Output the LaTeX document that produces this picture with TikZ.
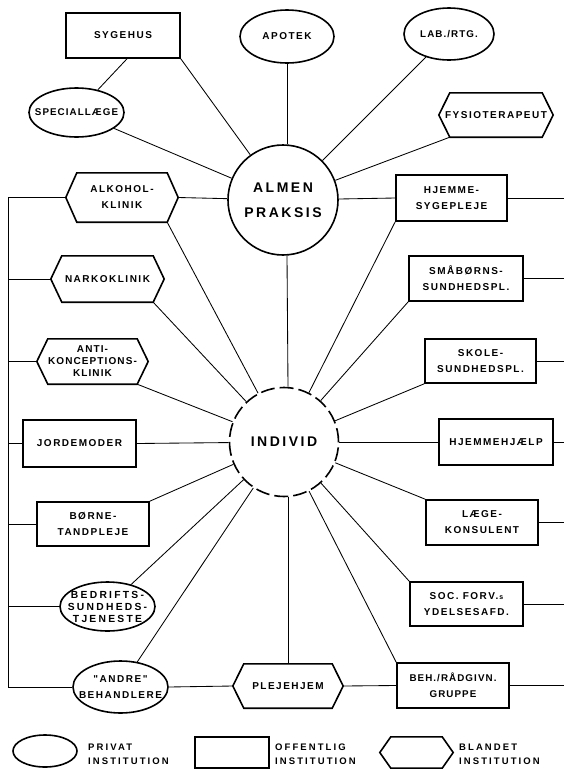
\documentclass[tikz,border=0pt]{standalone}
\usepackage{fontspec}
\newfontfamily\lab{Liberation Sans}[LetterSpace=15]
\newfontfamily\labn{Liberation Sans}[LetterSpace=11]
\newfontfamily\labw{Liberation Sans}[LetterSpace=22]
\newfontfamily\legf{Liberation Sans}[LetterSpace=22]
\newfontfamily\bigf{Liberation Sans}[LetterSpace=18]
\usetikzlibrary{shapes.geometric}
\newcommand\hexout[1]{\draw[shapeline,line join=miter] (#1.west) -- ([xshift=11pt]#1.north west) -- ([xshift=-11pt]#1.north east) -- (#1.east) -- ([xshift=-11pt]#1.south east) -- ([xshift=11pt]#1.south west) -- cycle;}
\begin{document}
\begin{tikzpicture}[x=1pt,y=-1pt,
  shapeline/.style={line width=1.6pt},
  link/.style={line width=0.85pt},
  txtfont/.style={font=\lab\bfseries\fontsize{10}{16}\selectfont},
  narrowfont/.style={font=\labn\bfseries\fontsize{9.8}{16}\selectfont},
  three/.style={font=\labn\bfseries\fontsize{10}{12}\selectfont},
  threew/.style={font=\labw\bfseries\fontsize{10.3}{12}\selectfont},
  rbox/.style={draw, shapeline, rectangle, inner sep=0pt, align=center, txtfont},
  hbox/.style={rectangle, inner sep=0pt, align=center, txtfont},
  ebox/.style={draw, shapeline, ellipse, inner sep=0pt},
  lbl/.style={inner sep=0pt, align=center, txtfont},
  bigc/.style={draw, shapeline, circle, minimum size=110pt, inner sep=0pt, align=center, font=\bigf\bfseries\fontsize{14}{25}\selectfont},
  legtxt/.style={inner sep=0pt, align=left, font=\legf\bfseries\fontsize{9.5}{14}\selectfont}
]
\useasboundingbox (0,0) rectangle (563,769);
\coordinate (leftx) at (8,0);
\coordinate (rightx) at (565,0);

% top
\node[rbox, minimum width=114pt, minimum height=45pt] (sygehus) at (123,35.5) {SYGEHUS};
\node[ebox, minimum width=94pt, minimum height=53pt] (apotek) at (287,36.5) {};
\node[lbl] (apotek-t) at (apotek) {APOTEK};
\node[ebox, minimum width=90pt, minimum height=52pt] (lab) at (449,34) {};
\node[lbl, narrowfont] (lab-t) at (lab) {LAB./RTG.};
\node[ebox, minimum width=95pt, minimum height=49pt] (specl) at (76.5,112.5) {};
\node[lbl, narrowfont] (specl-t) at (specl) {SPECIALLÆGE};
\node[hbox, minimum width=114pt, minimum height=44pt] (fysio) at (496,115) {FYSIOTERAPEUT};
\node[bigc] (almen) at (283,200) {ALMEN\\PRAKSIS};

% left column
\node[hbox, minimum width=112pt, minimum height=49pt] (alkohol) at (122,197.5) {ALKOHOL-\\KLINIK};
\node[hbox, minimum width=113pt, minimum height=46pt] (narko) at (107.5,279) {NARKOKLINIK};
\node[hbox, three, minimum width=111pt, minimum height=45pt] (anti) at (92.5,361.5) {ANTI-\\KONCEPTIONS-\\KLINIK};
\node[rbox, minimum width=113pt, minimum height=47pt] (jord) at (79.5,443.5) {JORDEMODER};
\node[rbox, minimum width=112pt, minimum height=44pt] (boerne) at (93,524) {BØRNE-\\TANDPLEJE};
\node[ebox, minimum width=95pt, minimum height=49pt] (bedr) at (107.5,606.5) {};
\node[lbl, threew] (bedr-t) at (bedr) {BEDRIFTS-\\SUNDHEDS-\\TJENESTE};
\node[ebox, minimum width=95pt, minimum height=52pt] (andre) at (120.5,687) {};
\node[lbl] (andre-t) at (andre) {"ANDRE"\\BEHANDLERE};

% right column
\node[rbox, minimum width=111pt, minimum height=46pt] (hjemme) at (451.5,198) {HJEMME-\\SYGEPLEJE};
\node[rbox, minimum width=114pt, minimum height=45pt] (smaab) at (466,278.5) {SMÅBØRNS-\\SUNDHEDSPL.};
\node[rbox, minimum width=111pt, minimum height=44pt] (skole) at (480.5,361) {SKOLE-\\SUNDHEDSPL.};
\node[rbox, minimum width=114pt, minimum height=46pt] (hjhj) at (496,442) {HJEMMEHJÆLP};
\node[rbox, minimum width=112pt, minimum height=45pt] (laege) at (482,522.5) {LÆGE-\\KONSULENT};
\node[rbox, minimum width=113pt, minimum height=44pt] (soc) at (466.5,604) {SOC. FORV.{\fontsize{7}{7}\selectfont\,s}\\YDELSESAFD.};
\node[rbox, narrowfont, minimum width=112pt, minimum height=45pt] (beh) at (453,685.5) {BEH./RÅDGIVN.\\GRUPPE};
\node[hbox, minimum width=110pt, minimum height=44pt] (pleje) at (288,686) {PLEJEHJEM};

% centre
\node[bigc, dash pattern=on 14pt off 5pt, minimum size=109pt] (individ) at (284,442) {INDIVID};

% hexagon outlines
\hexout{fysio}
\hexout{alkohol}
\hexout{narko}
\hexout{anti}
\hexout{pleje}

% spokes to ALMEN PRAKSIS
\draw[link] (sygehus.south east) -- (almen);
\draw[link] ([xshift=4pt]sygehus.south) -- (specl);
\draw[link] (specl) -- (almen);
\draw[link] (apotek.south) -- (apotek.south |- almen.north);
\draw[link] (lab) -- (almen);
\draw[link] ([xshift=11pt]fysio.south west) -- (almen);
\draw[link] (alkohol.east) -- (almen);
\draw[link] (hjemme.west) -- (almen);
\draw[link] ([xshift=4pt]almen.south) -- ([xshift=4pt]individ.north);

% spokes to INDIVID
\draw[link] ([xshift=-11pt]alkohol.south east) -- (individ);
\draw[link] ([xshift=-11pt]narko.south east) -- (individ);
\draw[link] ([xshift=-11pt]anti.south east) -- (individ);
\draw[link] (jord.east) -- (individ);
\draw[link] (boerne.north east) -- (individ);
\draw[link] (bedr) -- (individ);
\draw[link] (andre) -- (individ);
\draw[link] (pleje.north) -- (pleje.north |- individ.south);
\draw[link] (beh.north west) -- (individ);
\draw[link] (soc.north west) -- (individ);
\draw[link] (laege.north west) -- (individ);
\draw[link] (hjhj.west) -- (individ);
\draw[link] (skole.south west) -- (individ);
\draw[link] (smaab.south west) -- (individ);
\draw[link] (hjemme.south west) -- (individ);

% left collector
\draw[link] (alkohol.west) -- (alkohol.west -| leftx) -- (andre.west -| leftx) -- (andre.west);
\draw[link] (narko.west) -- (narko.west -| leftx);
\draw[link] (anti.west) -- (anti.west -| leftx);
\draw[link] (jord.west) -- (jord.west -| leftx);
\draw[link] (boerne.west) -- (boerne.west -| leftx);
\draw[link] (bedr.west) -- (bedr.west -| leftx);

% right collector stubs
\draw[link] (hjemme.east) -- (hjemme.east -| rightx);
\draw[link] (smaab.east) -- (smaab.east -| rightx);
\draw[link] (skole.east) -- (skole.east -| rightx);
\draw[link] (hjhj.east) -- (hjhj.east -| rightx);
\draw[link] (laege.east) -- (laege.east -| rightx);
\draw[link] (soc.east) -- (soc.east -| rightx);
\draw[link] (beh.east) -- (beh.east -| rightx);

% bottom row
\draw[link] (andre.east) -- (pleje.west);
\draw[link] (pleje.east) -- (beh.west);

% legend
\node[ebox, minimum width=64pt, minimum height=32pt] (legE) at (45,751) {};
\node[legtxt, anchor=west] (legEt) at (88,754) {PRIVAT\\INSTITUTION};
\node[rbox, minimum width=74pt, minimum height=31pt] (legR) at (232,752.5) {};
\node[legtxt, anchor=west] (legRt) at (275,754) {OFFENTLIG\\INSTITUTION};
\node[hbox, minimum width=73pt, minimum height=31pt] (legH) at (416.5,752.5) {};
\hexout{legH}
\node[legtxt, anchor=west] (legHt) at (459,754) {BLANDET\\INSTITUTION};
\end{tikzpicture}
\end{document}
